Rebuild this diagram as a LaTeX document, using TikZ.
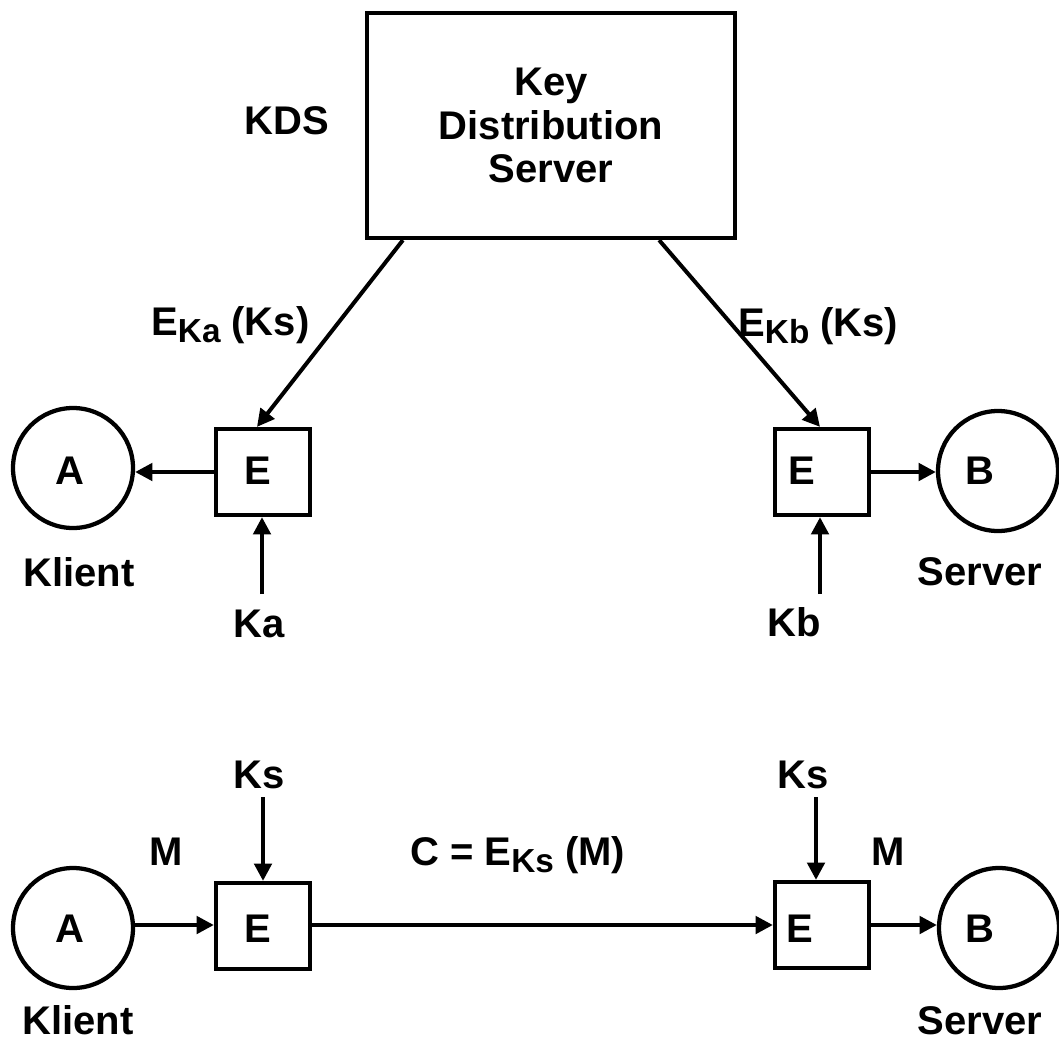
\documentclass[tikz,border=0pt]{standalone}
\usepackage{fontspec}
\setmainfont{Liberation Sans}
\usetikzlibrary{arrows.meta}
\newcommand\dfont{\fontsize{30}{32.5}\selectfont\bfseries}
\newcommand\subtxt[1]{\raisebox{-5.5pt}{\fontsize{25}{25}\selectfont #1}}
\begin{document}
\begin{tikzpicture}[x=0.75pt,y=-0.75pt,
  txt/.style={inner sep=0pt, font=\dfont},
  kdsbox/.style={draw, line width=3.2pt, minimum width=276pt, minimum height=168.75pt, inner sep=0pt, align=center, font=\dfont},
  ebox/.style={draw, line width=3.2pt, minimum width=70.5pt, minimum height=64.5pt, inner sep=0pt},
  circ/.style={draw, circle, line width=3.2pt, minimum size=90pt, inner sep=0pt},
  arr/.style={line width=3pt, -{Triangle[length=13pt,width=13pt]}},
  ln/.style={line width=3pt}]
\useasboundingbox (0,0) rectangle (1059,1043);

% ---------- top part ----------
\node[kdsbox] (kds) at (551,125.5) {Key\\Distribution\\Server};
\node[txt, anchor=base] (kdslbl) at (287,134) {KDS};

\node[circ] (cA) at (73,468) {};
\node[circ] (cB) at (998,471) {};
\node[ebox] (eA) at (263,472) {};
\node[ebox] (eB) at (822,472) {};

\node[txt, anchor=base] (tA) at (70,484) {A};
\node[txt, anchor=base] (tB) at (980,484) {B};
\node[txt, anchor=base] (teA) at (258,484) {E};
\node[txt, anchor=base] (teB) at (802,484) {E};

\node[txt, anchor=base] (klient1) at (79,586) {Klient};
\node[txt, anchor=base] (server1) at (980,585) {Server};
\node[txt, anchor=base] (ka) at (259,637) {Ka};
\node[txt, anchor=base] (kb) at (794,636) {Kb};

\node[txt, anchor=base west] (eka) at (151,335) {E\subtxt{Ka} (Ks)};
\node[txt, anchor=base west] (ekb) at (738,336) {E\subtxt{Kb} (Ks)};

\coordinate (kaS) at (262,594);
\coordinate (kbS) at (820,594);

\draw[arr] ([xshift=28.5pt]kds.south west) -- ([xshift=-4.5pt]eA.north);
\draw[arr] ([xshift=-58.5pt]kds.south east) -- ([xshift=-1.5pt]eB.north);
\draw[arr] (eA.west) -- (cA.east |- eA.west);
\draw[arr] (eB.east) -- (cB.west |- eB.east);
\draw[arr] (kaS) -- (kaS |- eA.south);
\draw[arr] (kbS) -- (kbS |- eB.south);

% ---------- bottom part ----------
\node[circ] (cA2) at (73,928) {};
\node[circ] (cB2) at (999,928) {};
\node[ebox] (eA2) at (263,926) {};
\node[ebox] (eB2) at (822,925) {};

\node[txt, anchor=base] (tA2) at (70,942) {A};
\node[txt, anchor=base] (tB2) at (980,942) {B};
\node[txt, anchor=base] (teA2) at (258,942) {E};
\node[txt, anchor=base] (teB2) at (800,942) {E};

\node[txt, anchor=base] (klient2) at (78,1034) {Klient};
\node[txt, anchor=base] (server2) at (980,1034) {Server};
\node[txt, anchor=base] (ks1) at (259,788) {Ks};
\node[txt, anchor=base] (ks2) at (803,788) {Ks};
\node[txt, anchor=base] (m1) at (166,865) {M};
\node[txt, anchor=base] (m2) at (888,865) {M};
\node[txt, anchor=base west] (clbl) at (410,865) {C = E\subtxt{Ks} (M)};

\coordinate (ks1S) at (263,797);
\coordinate (ks2S) at (816,797);

\draw[arr] (cA2.east |- 0,925) -- (eA2.west |- 0,925);
\draw[arr] (eA2.east |- 0,925) -- (eB2.west |- 0,925);
\draw[arr] (eB2.east) -- (cB2.west |- eB2.east);
\draw[arr] (ks1S) -- (ks1S |- eA2.north);
\draw[arr] (ks2S) -- (ks2S |- eB2.north);
\end{tikzpicture}
\end{document}
